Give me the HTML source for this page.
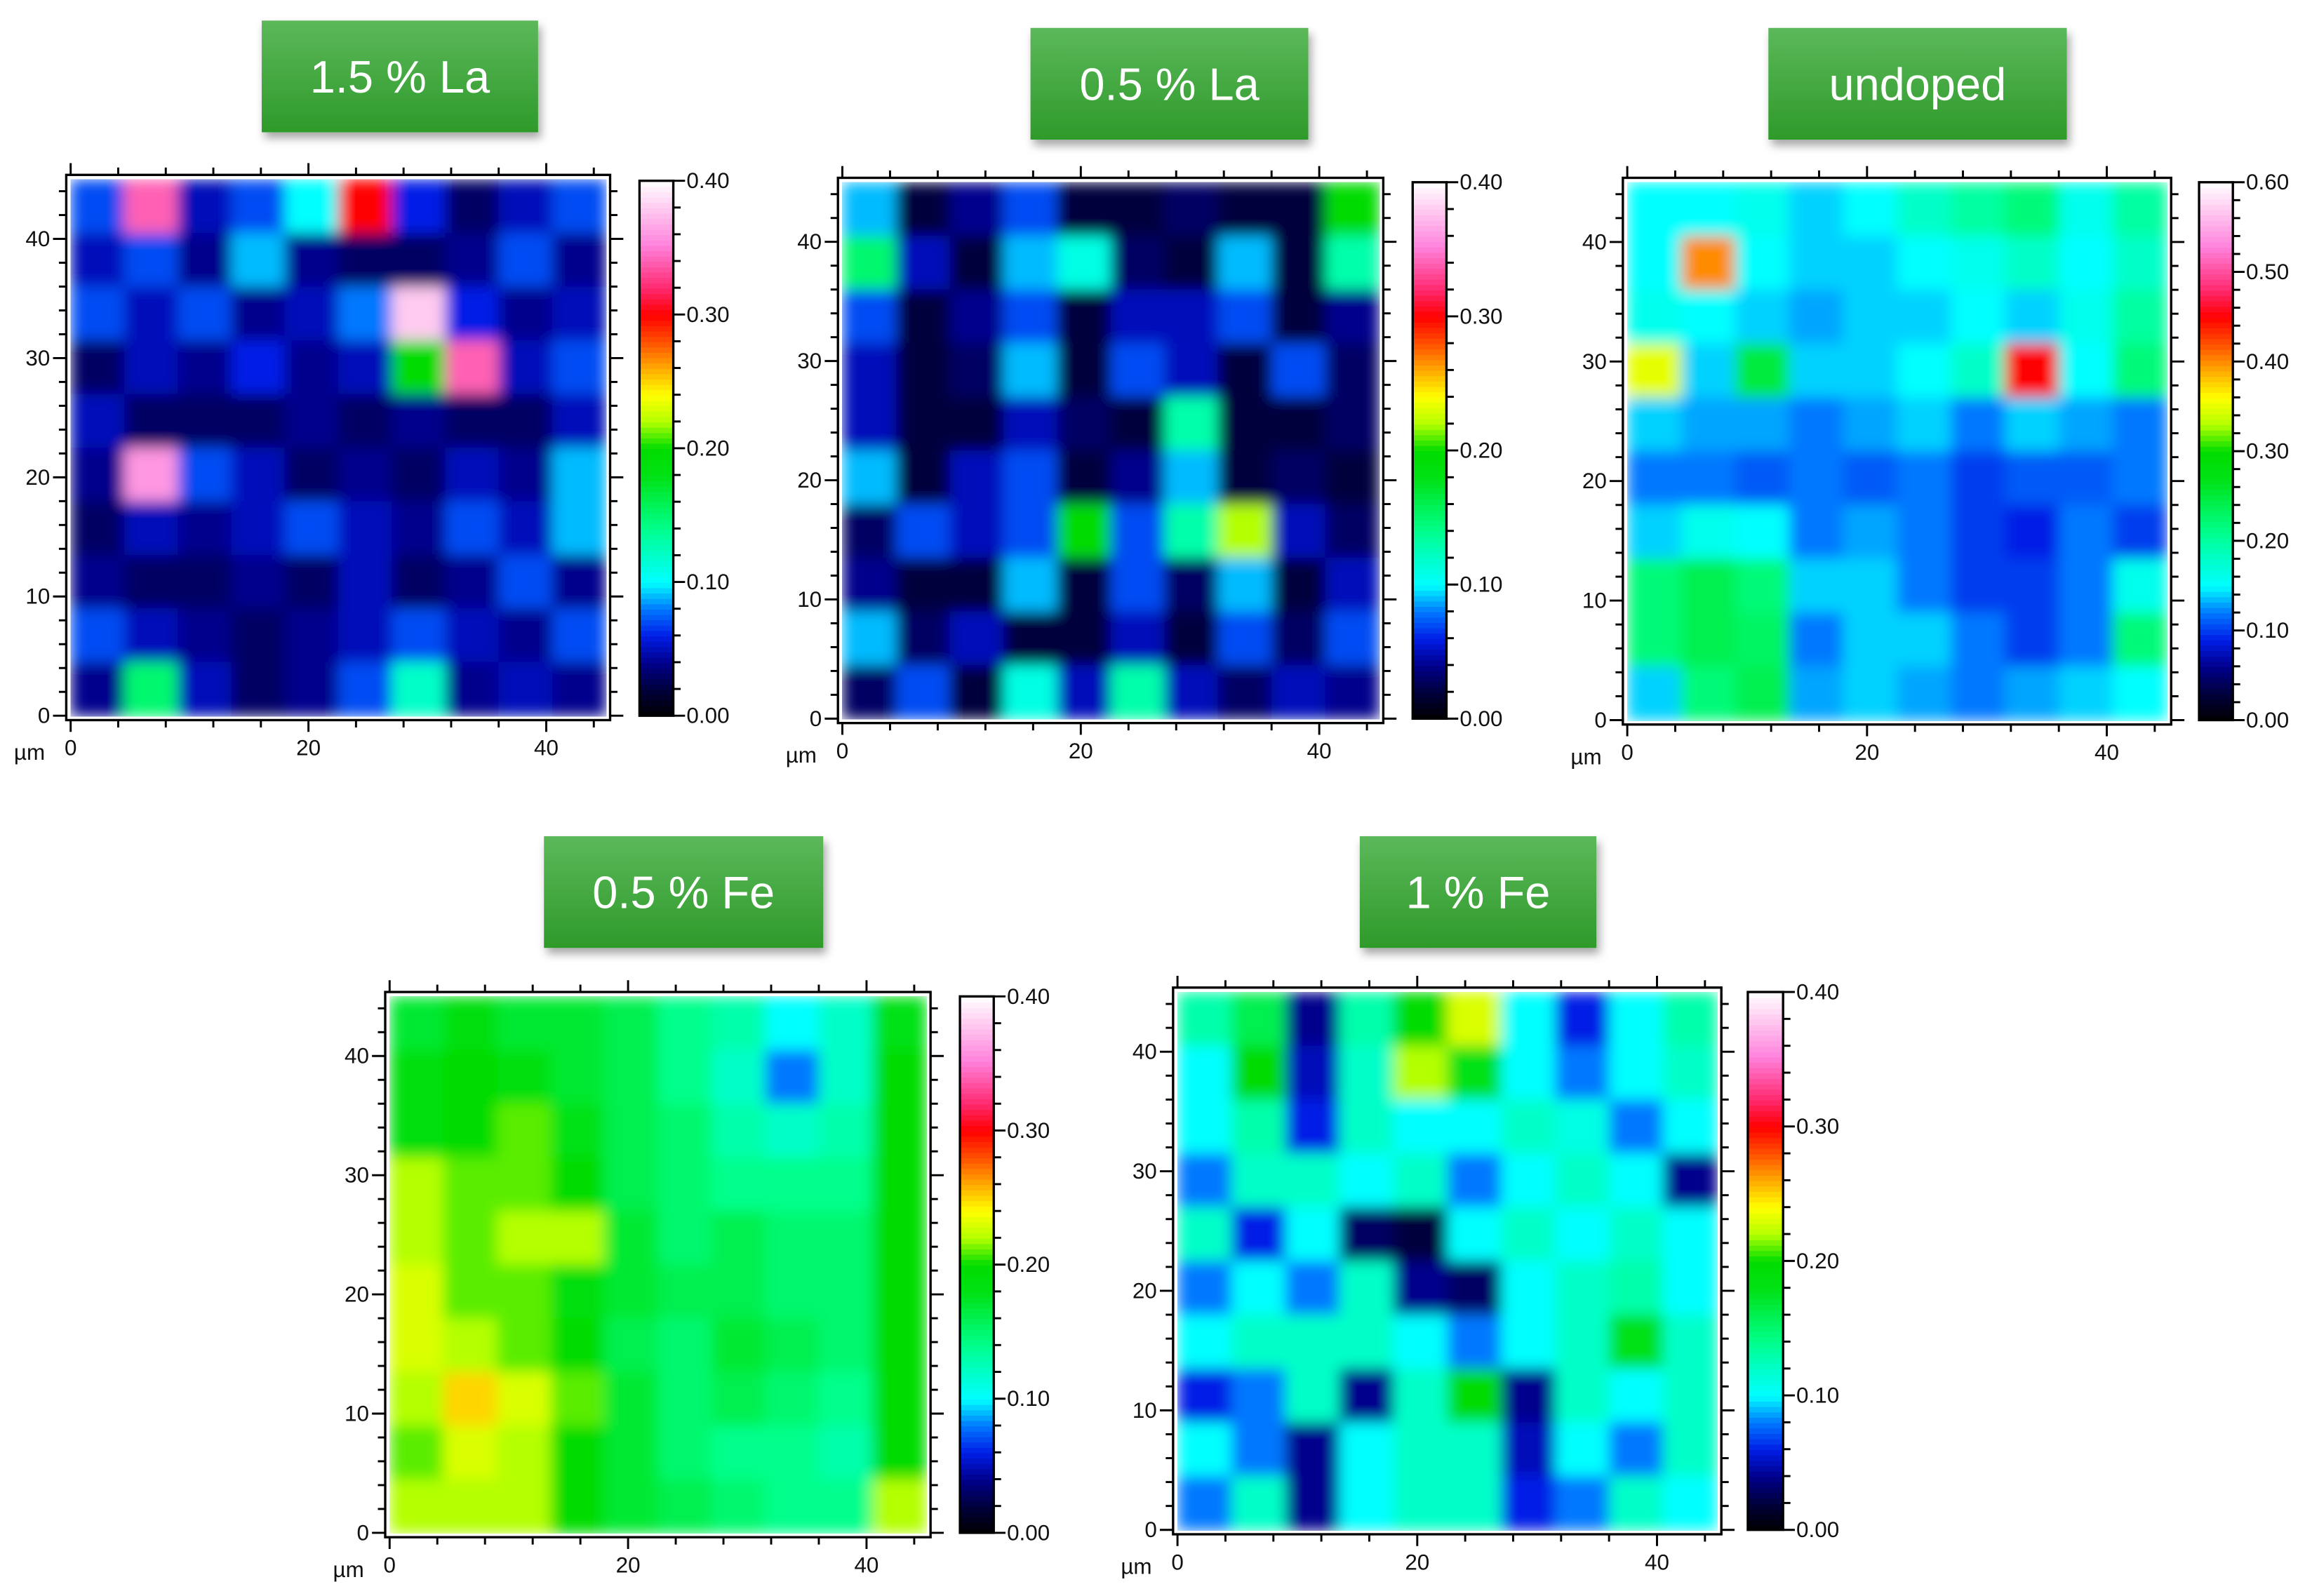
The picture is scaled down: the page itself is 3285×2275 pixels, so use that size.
<!DOCTYPE html>
<html><head><meta charset="utf-8"><style>
html,body{margin:0;padding:0;background:#fff;}
svg{display:block;font-family:"Liberation Sans",sans-serif;}
</style></head><body>
<svg id="fig" width="3285" height="2275" viewBox="0 0 1568 1086" xmlns="http://www.w3.org/2000/svg">
<defs>
<linearGradient id="gbox" x1="0" y1="0" x2="0" y2="1"><stop offset="0" stop-color="#5cb85a"/><stop offset="1" stop-color="#2e9a2a"/></linearGradient>
<filter id="sh" x="-10%" y="-10%" width="130%" height="140%"><feDropShadow dx="2" dy="4" stdDeviation="3" flood-color="#000" flood-opacity="0.35"/></filter>
<filter id="soft" x="0" y="0" width="100%" height="100%" filterRes="1200"><feGaussianBlur stdDeviation="5" edgeMode="duplicate"/></filter>
</defs>
</svg>
<script>
// ---- data (values per grid cell, rows top->bottom) ----
const titles = ["1.5 % La","0.5 % La","undoped","0.5 % Fe","1 % Fe"];
const scaleMax = [0.40,0.40,0.60,0.40,0.40];
const xTickLabels = [0,20,40];
const yTickLabels = [0,10,20,30,40];
const grid15La = [
[.07,.34,.05,.07,.10,.30,.06,.03,.05,.07],
[.05,.07,.04,.09,.04,.03,.03,.04,.07,.04],
[.07,.05,.07,.04,.05,.08,.38,.06,.04,.05],
[.03,.05,.04,.06,.04,.05,.20,.34,.05,.07],
[.05,.03,.03,.03,.04,.03,.04,.03,.03,.05],
[.04,.36,.07,.05,.03,.04,.03,.05,.04,.09],
[.03,.05,.04,.05,.07,.05,.04,.07,.05,.09],
[.04,.03,.03,.04,.03,.05,.03,.04,.07,.04],
[.07,.05,.04,.03,.04,.05,.07,.05,.04,.07],
[.04,.15,.05,.03,.04,.07,.12,.04,.05,.04]];
const grid05La = [
[.09,.02,.04,.07,.02,.02,.03,.02,.02,.20],
[.15,.05,.02,.09,.11,.03,.02,.09,.02,.13],
[.07,.02,.04,.07,.02,.05,.05,.07,.02,.04],
[.05,.02,.03,.09,.02,.07,.05,.02,.07,.03],
[.05,.02,.02,.05,.03,.02,.13,.02,.02,.03],
[.09,.02,.05,.07,.02,.04,.09,.02,.03,.02],
[.03,.07,.05,.07,.20,.07,.13,.22,.05,.03],
[.04,.02,.02,.09,.02,.07,.03,.09,.02,.05],
[.09,.03,.05,.02,.02,.05,.02,.07,.03,.07],
[.03,.07,.02,.11,.05,.13,.05,.03,.05,.04]];
const gridUndoped = [
[.15,.15,.16,.14,.15,.18,.20,.22,.16,.20],
[.15,.40,.15,.14,.14,.15,.16,.18,.15,.18],
[.16,.15,.14,.13,.14,.14,.15,.14,.16,.20],
[.35,.14,.25,.14,.14,.15,.18,.45,.15,.22],
[.14,.13,.13,.12,.13,.14,.12,.14,.13,.12],
[.12,.12,.11,.12,.11,.12,.10,.11,.11,.12],
[.14,.16,.15,.12,.13,.12,.10,.09,.12,.10],
[.22,.24,.22,.14,.14,.12,.10,.10,.12,.16],
[.22,.24,.23,.12,.14,.14,.12,.10,.12,.22],
[.14,.22,.24,.13,.14,.13,.12,.13,.14,.15]];
const grid05Fe = [
[.17,.19,.17,.17,.16,.14,.13,.10,.12,.18],
[.19,.20,.19,.17,.16,.14,.12,.08,.12,.20],
[.19,.20,.21,.18,.16,.15,.13,.12,.13,.20],
[.22,.21,.21,.20,.16,.15,.14,.14,.14,.20],
[.22,.21,.22,.22,.17,.15,.16,.15,.15,.20],
[.23,.21,.21,.19,.17,.16,.16,.15,.15,.20],
[.23,.22,.21,.20,.16,.15,.17,.16,.15,.20],
[.22,.25,.23,.21,.17,.15,.16,.15,.14,.20],
[.21,.23,.22,.20,.17,.15,.14,.14,.13,.20],
[.22,.22,.22,.20,.17,.16,.15,.14,.14,.22]];
const grid1Fe = [
[.13,.16,.04,.13,.20,.23,.10,.06,.10,.13],
[.10,.20,.05,.12,.22,.18,.10,.08,.10,.12],
[.10,.13,.06,.12,.10,.10,.12,.11,.08,.10],
[.08,.12,.12,.10,.12,.08,.10,.12,.10,.04],
[.12,.06,.10,.03,.02,.10,.12,.10,.12,.10],
[.08,.10,.08,.12,.04,.03,.10,.12,.13,.10],
[.10,.12,.12,.12,.10,.08,.10,.12,.18,.12],
[.06,.08,.12,.04,.12,.20,.04,.12,.10,.12],
[.10,.08,.04,.10,.12,.12,.05,.10,.08,.12],
[.08,.12,.04,.10,.12,.12,.06,.08,.12,.10]];
const grids = [grid15La,grid05La,gridUndoped,grid05Fe,grid1Fe];

// ---- layout ----
const layout = [
 {box:[178,14,188,76], map:[48,122,364,365], cb:[435,123,23,364]},
 {box:[701,19,189,76], map:[573,124,365,365], cb:[961,124,23,365]},
 {box:[1203,19,203,76], map:[1107,124,367,366], cb:[1496,124,23,366]},
 {box:[370,569,190,76], map:[265,678,365,365], cb:[653,678,23,365]},
 {box:[925,569,161,76], map:[801,675,367,366], cb:[1189,675,24,366]}];
const EXTENT = 45;
const NS = "http://www.w3.org/2000/svg";
const svg = document.getElementById('fig');
const stops = [[0,[0,0,0]],[.05,[0,0,60]],[.1,[0,0,140]],[.15,[0,30,230]],[.2,[0,120,255]],[.25,[0,255,255]],[.3,[0,255,200]],[.35,[0,255,140]],[.45,[0,225,20]],[.5,[0,220,0]],[.55,[180,255,0]],[.6,[255,255,0]],[.65,[255,170,0]],[.7,[255,80,0]],[.75,[255,0,0]],[.8,[255,40,110]],[.88,[255,130,220]],[1,[255,255,255]]];
function cmap(t){t=Math.max(0,Math.min(1,t));for(let i=1;i<stops.length;i++){if(t<=stops[i][0]){const a=stops[i-1],b=stops[i];const f=(t-a[0])/(b[0]-a[0]);const c=a[1].map((v,k)=>Math.round(v+(b[1][k]-v)*f));return `rgb(${c})`;}}return '#fff';}
function mk(tag,attrs,parent){const e=document.createElementNS(NS,tag);for(const k in attrs)e.setAttribute(k,attrs[k]);(parent||svg).appendChild(e);return e;}

layout.forEach((L,p)=>{
  const g=mk('g',{});
  
  
  const [bx,by,bw,bh]=L.box;
  const r=mk('rect',{x:bx,y:by,width:bw,height:bh,fill:'url(#gbox)',filter:'url(#sh)'},g);
  
  
  const t=mk('text',{x:bx+bw/2,y:by+bh/2+11,'text-anchor':'middle','font-size':31,fill:'#fff'},g);
  t.textContent=titles[p];
  
  
  const [mx,my,mw,mh]=L.map;
  const data=grids[p];const rows=data.length,cols=data[0].length;
  const xs=v=>mx+v/EXTENT*mw, ys=v=>my+mh-v/EXTENT*mh;
  const hm=mk('g',{filter:'url(#soft)'},g);
  
  
  data.forEach((row,ri)=>row.forEach((v,ci)=>{
    const x0=xs(ci*EXTENT/cols), x1=xs((ci+1)*EXTENT/cols);
    const y0=ys(EXTENT-ri*EXTENT/rows), y1=ys(EXTENT-(ri+1)*EXTENT/rows);
    const c=mk('rect',{x:x0,y:y0,width:x1-x0+0.5,height:y1-y0+0.5,fill:cmap(v/scaleMax[p])},hm);
    
    
  }));
  const off=3;
  mk('rect',{x:mx-off,y:my-off,width:mw+2*off,height:mh+2*off,fill:'none',stroke:'#000','stroke-width':1.6},g);
  for(let v=0;v<=EXTENT;v+=4){const x=xs(v);const maj=v%20===0;
    mk('line',{x1:x,x2:x,y1:my-off,y2:my-off-(maj?8:5),stroke:'#000','stroke-width':1.4},g);
    mk('line',{x1:x,x2:x,y1:my+mh+off,y2:my+mh+off+(maj?8:5),stroke:'#000','stroke-width':1.4},g);}
  for(let v=0;v<=EXTENT;v+=2){const y=ys(v);const maj=v%10===0;
    mk('line',{x1:mx-off,x2:mx-off-(maj?9:5),y1:y,y2:y,stroke:'#000','stroke-width':1.4},g);
    mk('line',{x1:mx+mw+off,x2:mx+mw+off+(maj?9:5),y1:y,y2:y,stroke:'#000','stroke-width':1.4},g);}
  xTickLabels.forEach(v=>{const tl=mk('text',{x:xs(v),y:my+mh+off+24,'text-anchor':'middle','font-size':15,fill:'#111'},g);tl.textContent=v;
    });
  yTickLabels.forEach(v=>{const tl=mk('text',{x:mx-off-11,y:ys(v)+5,'text-anchor':'end','font-size':15,fill:'#111'},g);tl.textContent=v;
    });
  const um=mk('text',{x:mx-28,y:my+mh+off+27,'text-anchor':'middle','font-size':15,fill:'#111'},g);um.textContent='µm';
  
  const [cx,cy,cw,ch]=L.cb;
  const cb=mk('g',{},g);
  
  
  const N=100;
  for(let i=0;i<N;i++){mk('rect',{x:cx,y:cy+ch-(i+1)*ch/N,width:cw,height:ch/N+0.6,fill:cmap((i+0.5)/N)},cb);}
  mk('rect',{x:cx,y:cy,width:cw,height:ch,fill:'none',stroke:'#000','stroke-width':1.6},cb);
  const M=scaleMax[p];const nMinor=Math.round(M/0.02);
  for(let i=0;i<=nMinor;i++){const y=cy+ch-i/nMinor*ch;const maj=i%5===0;
    mk('line',{x1:cx+cw,x2:cx+cw+(maj?8:5),y1:y,y2:y,stroke:'#000','stroke-width':1.4},cb);
    if(maj){const tl=mk('text',{x:cx+cw+9,y:y+5,'font-size':15,fill:'#111'},cb);tl.textContent=(i*0.02).toFixed(2);
      }}
});
</script>
</body></html>
